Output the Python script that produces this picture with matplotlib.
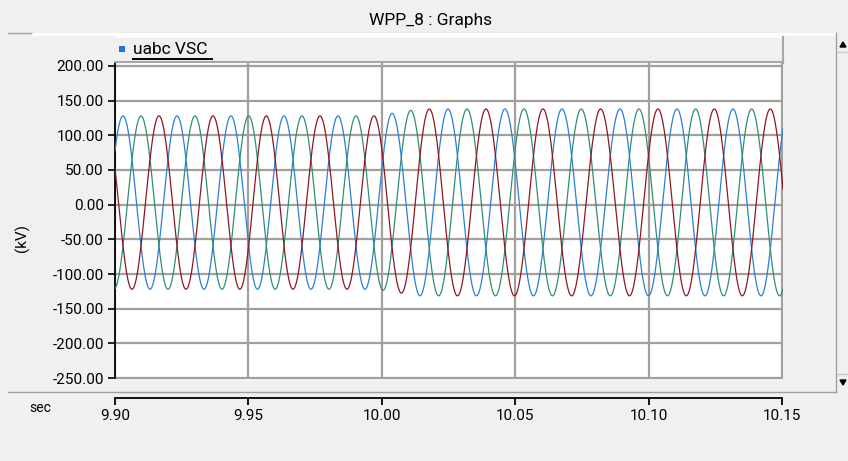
import numpy as np
import matplotlib
matplotlib.use("Agg")
import matplotlib.pyplot as plt
from matplotlib.patches import Rectangle, Polygon
from matplotlib.lines import Line2D

plt.rcParams['font.family'] = ['Roboto', 'DejaVu Sans']

# ---------------- data ----------------
title = "WPP_8 : Graphs"
series_name = "uabc VSC"
y_label = "(kV)"
x_label = "sec"
x_ticks = [9.90, 9.95, 10.00, 10.05, 10.10, 10.15]
y_ticks = [200, 150, 100, 50, 0, -50, -100, -150, -200, -250]

# times of the successive peaks of the blue phase (s)
blue_peak_t = [9.90300, 9.92324, 9.94348, 9.96334, 9.98358, 10.00382,
               10.02481, 10.04618, 10.06754, 10.08928, 10.11065, 10.13164]
# envelope of the waveforms (kV): upper and lower extremes vs time
env_t = [9.900, 9.998, 10.014, 10.150]
env_top = [128.0, 128.0, 138.0, 138.0]
env_bot = [-122.0, -122.0, -131.5, -131.5]

phase_colors = ['#2a7fd9', '#2f8f72', '#8e1620']   # blue, green, red
phase_shift = [0.0, 2 * np.pi / 3, 4 * np.pi / 3]

# ---------------- figure ----------------
W, H = 848, 461
fig = plt.figure(figsize=(W / 100, H / 100), dpi=100, facecolor='#f0f0f0')

def fx(x):
    return x / W

def fy(y):
    return 1 - y / H

# main plot axes (white area from x=115..783, y=63..378.5)
ax = fig.add_axes([fx(115), fy(378.5), fx(783) - fx(115), fy(63) - fy(378.5)])
ax.set_facecolor('white')
ax.set_xlim(9.90, 10.1504)
ax.set_ylim(-250.7, 204.3)

t = np.linspace(9.90, 10.1504, 6000)
k = np.arange(len(blue_peak_t))
bp = np.array(blue_peak_t)
# phase from the read peak times, extended linearly at the ends
ph = np.interp(t, bp, 2 * np.pi * k)
s0 = 2 * np.pi / (bp[1] - bp[0])
s1 = 2 * np.pi / (bp[-1] - bp[-2])
ph = np.where(t < bp[0], (t - bp[0]) * s0, ph)
ph = np.where(t > bp[-1], 2 * np.pi * k[-1] + (t - bp[-1]) * s1, ph)
top = np.interp(t, env_t, env_top)
bot = np.interp(t, env_t, env_bot)
mid = (top + bot) / 2
amp = (top - bot) / 2

for c, sh in zip(phase_colors, phase_shift):
    ax.plot(t, mid + amp * np.cos(ph - sh), color=c, lw=0.9, zorder=3)

ax.set_yticks(y_ticks)
ax.set_yticklabels([f"{v:.2f}" for v in y_ticks], fontsize=11)
ax.set_xticks(x_ticks)
ax.tick_params(axis='x', length=0, labelbottom=False)
ax.tick_params(axis='y', direction='out', length=5, width=1.2, color='black', pad=3)
ax.grid(True, color='#a39f9b', lw=1.6, zorder=1)
ax.set_axisbelow(True)
for s in ['top', 'right', 'bottom']:
    ax.spines[s].set_visible(False)
ax.spines['left'].set_color('black')
ax.spines['left'].set_linewidth(1.3)

fig.text(fx(22), fy(238), y_label, rotation=90, ha='center', va='center', fontsize=11)

# separate time axis below
ax2 = fig.add_axes([fx(115), fy(398), fx(782) - fx(115), 0.0005])
ax2.set_xlim(9.90, 10.15)
ax2.set_facecolor('none')
for s in ['top', 'right', 'left']:
    ax2.spines[s].set_visible(False)
ax2.spines['bottom'].set_linewidth(1.3)
ax2.set_yticks([])
ax2.set_xticks(x_ticks)
ax2.set_xticklabels([f"{v:.2f}" for v in x_ticks], fontsize=11)
ax2.tick_params(axis='x', direction='out', length=5, width=1.3, pad=3)
fig.text(fx(29), fy(408), x_label, ha='left', va='center', fontsize=10)

# title
fig.text(fx(431), fy(20), title, ha='center', va='center', fontsize=12.5)

# decorative frame lines
fig.add_artist(Line2D([fx(8), fx(33)], [fy(33), fy(33)], color='#a0a0a0', lw=1))
fig.add_artist(Line2D([fx(33), fx(835)], [fy(34.5), fy(34.5)], color='white', lw=2))
fig.add_artist(Line2D([fx(8), fx(836)], [fy(392), fy(392)], color='#a0a0a0', lw=1))
fig.add_artist(Line2D([fx(835.5), fx(835.5)], [fy(33), fy(392)], color='#a0a0a0', lw=1))
fig.add_artist(Line2D([fx(837), fx(848)], [fy(52), fy(52)], color='#c8c8c8', lw=1))
fig.add_artist(Line2D([fx(837), fx(848)], [fy(374), fy(374)], color='#c8c8c8', lw=1))
fig.add_artist(Polygon([[fx(840), fy(47)], [fx(846), fy(47)], [fx(843), fy(42)]],
                       closed=True, color='black', transform=fig.transFigure))
fig.add_artist(Polygon([[fx(840), fy(380)], [fx(846), fy(380)], [fx(843), fy(385)]],
                       closed=True, color='black', transform=fig.transFigure))

# legend box
fig.add_artist(Rectangle((fx(115), fy(63)), fx(783) - fx(115), fy(37) - fy(63),
                         transform=fig.transFigure, facecolor='#f0f0f0',
                         edgecolor='none'))
fig.add_artist(Line2D([fx(115), fx(783)], [fy(37.5), fy(37.5)], color='white', lw=1.2))
fig.add_artist(Line2D([fx(115), fx(783)], [fy(62.5), fy(62.5)], color='#a8a8a8', lw=1.5))
fig.add_artist(Line2D([fx(782.5), fx(782.5)], [fy(37), fy(63)], color='#a8a8a8', lw=1.5))
fig.add_artist(Rectangle((fx(119), fy(52)), fx(125) - fx(119), fy(46) - fy(52),
                         transform=fig.transFigure, facecolor='#1e74d8', edgecolor='none'))
fig.text(fx(133), fy(50), series_name, ha='left', va='center', fontsize=12.5)
fig.add_artist(Line2D([fx(133), fx(212)], [fy(59), fy(59)], color='black', lw=1.4))

fig.savefig("out.png", dpi=100, facecolor=fig.get_facecolor())
